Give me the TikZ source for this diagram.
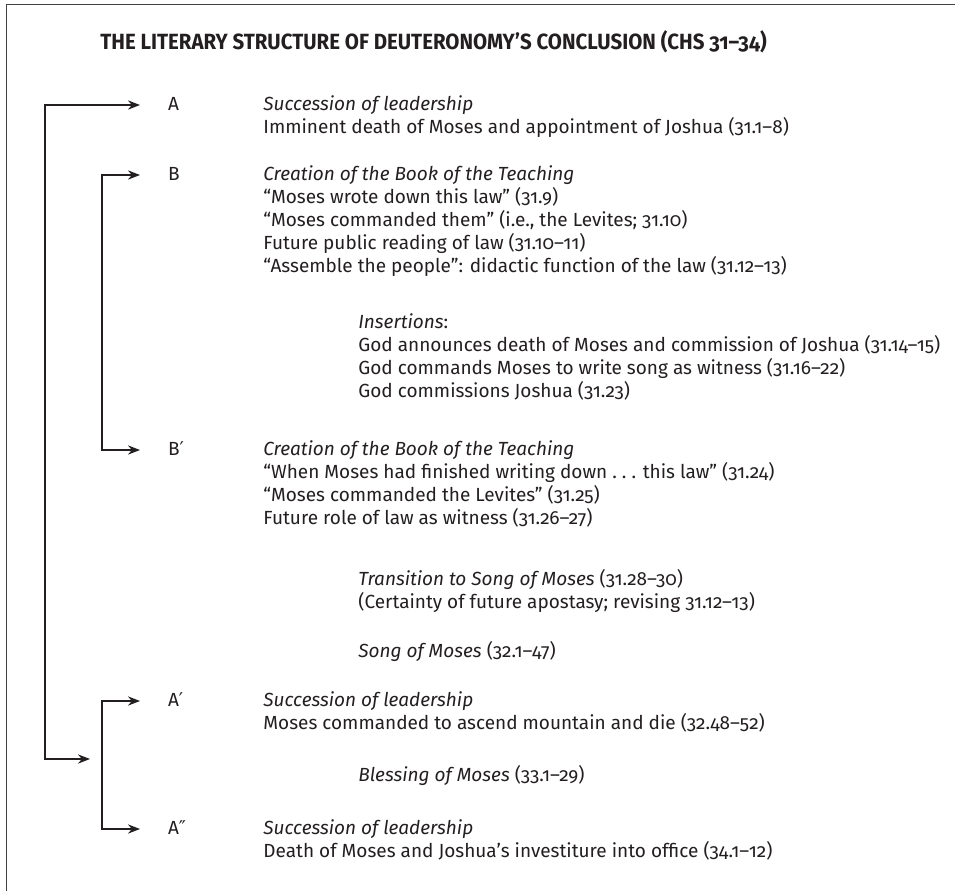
\documentclass[tikz,border=0pt]{standalone}
\usepackage{fontspec}
\setmainfont{Fira Sans}[Numbers=OldStyle]
\newfontfamily\headfont{Fira Sans}[Numbers=OldStyle, FakeStretch=0.93]
\newfontfamily\primefont{DejaVu Sans}
\newcommand{\pr}{{\primefont ′}}
\newcommand{\dpr}{{\primefont ″}}
\usetikzlibrary{arrows.meta}
\definecolor{ink}{HTML}{231F20}

\begin{document}
\begin{tikzpicture}[
  x=0.5pt, y=-0.5pt,
  frame/.style={draw=black!75, line width=0.5pt},
  conn/.style={draw=ink, line width=0.65pt},
  barr/.style={conn, {Stealth[length=6pt,width=4.6pt]}-{Stealth[length=6pt,width=4.6pt]}},
  tag/.style={anchor=west, inner sep=0pt, outer xsep=14pt, text height=7pt, text depth=2pt, font=\fontsize{9.5}{11}\selectfont, text=ink},
  txt/.style={anchor=west, inner sep=0pt, text height=7pt, text depth=2pt, font=\fontsize{9.5}{11}\selectfont, text=ink}
]
\useasboundingbox (0,0) rectangle (955,891);
\draw[frame] (6,891) -- (6,4) -- (955,4);

\node[anchor=base west, inner sep=0pt, text=ink, font=\headfont\bfseries\fontsize{11}{13}\selectfont] (title) at (100,49)
  {THE LITERARY STRUCTURE OF DEUTERONOMY’S CONCLUSION (CHS 31–34)};

% labels of the frame
\node[tag] (tagA)   at (140,105) {A};
\node[tag] (tagB)   at (140,175) {B};
\node[tag] (tagBp)  at (140,450) {B\pr};
\node[tag] (tagAp)  at (140,701) {A\pr};
\node[tag] (tagApp) at (140,829) {A\dpr};

% A
\node[txt] (a1) at (263,105) {\textit{Succession of leadership}};
\node[txt] (a2) at (263,128) {Imminent death of Moses and appointment of Joshua (31.1–8)};
% B
\node[txt] (b1) at (263,175) {\textit{Creation of the Book of the Teaching}};
\node[txt] (b2) at (263,198) {“Moses wrote down this law” (31.9)};
\node[txt] (b3) at (263,221) {“Moses commanded them” (i.e., the Levites; 31.10)};
\node[txt] (b4) at (263,244) {Future public reading of law (31.10–11)};
\node[txt] (b5) at (263,267) {“Assemble the people”: didactic function of the law (31.12–13)};
% insertions
\node[txt] (ins1) at (358,323) {\textit{Insertions}:};
\node[txt] (ins2) at (358,346) {God announces death of Moses and commission of Joshua (31.14–15)};
\node[txt] (ins3) at (358,369) {God commands Moses to write song as witness (31.16–22)};
\node[txt] (ins4) at (358,392) {God commissions Joshua (31.23)};
% B'
\node[txt] (bp1) at (263,450) {\textit{Creation of the Book of the Teaching}};
\node[txt] (bp2) at (263,473) {“When Moses had finished writing down .~.~. this law” (31.24)};
\node[txt] (bp3) at (263,496) {“Moses commanded the Levites” (31.25)};
\node[txt] (bp4) at (263,519) {Future role of law as witness (31.26–27)};
% transition, song
\node[txt] (tr1) at (358,580) {\textit{Transition to Song of Moses} (31.28–30)};
\node[txt] (tr2) at (358,603) {(Certainty of future apostasy; revising 31.12–13)};
\node[txt] (song) at (358,652) {\textit{Song of Moses} (32.1–47)};
% A'
\node[txt] (ap1) at (263,701) {\textit{Succession of leadership}};
\node[txt] (ap2) at (263,724) {Moses commanded to ascend mountain and die (32.48–52)};
\node[txt] (bless) at (358,776) {\textit{Blessing of Moses} (33.1–29)};
% A''
\node[txt] (app1) at (263,829) {\textit{Succession of leadership}};
\node[txt] (app2) at (263,852) {Death of Moses and Joshua’s investiture into office (34.1–12)};

% brackets
\coordinate (oFoot) at (45,759);
\coordinate (aMid)  at (90,759);
\coordinate (bFoot) at (102,450);
\coordinate (aFoot) at (102,829);
\draw[barr] (tagA.west) -| (oFoot) -- (aMid);
\draw[barr] (tagB.west) -| (bFoot) -- (tagBp.west);
\draw[barr] (tagAp.west) -| (aFoot) -- (tagApp.west);
\end{tikzpicture}
\end{document}
